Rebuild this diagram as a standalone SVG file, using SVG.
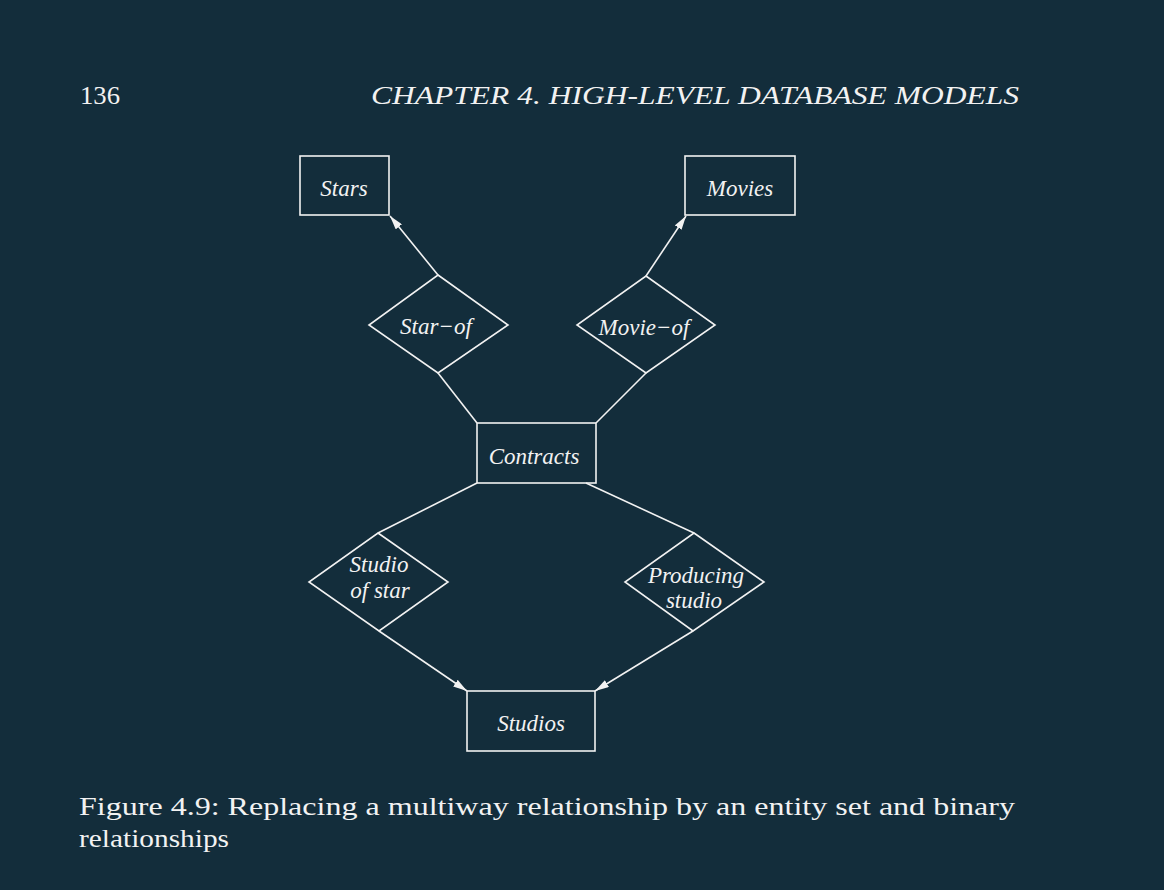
<svg xmlns="http://www.w3.org/2000/svg" width="1164" height="890" viewBox="0 0 1164 890">
<style>
.shape{fill:none;stroke:#f2f2f2;stroke-width:1.6}
.lbl{font-family:"Liberation Serif","Times New Roman",serif;font-style:italic;font-size:23px;fill:#f2f2f2;text-anchor:middle}
.page{font-family:"Liberation Serif","Times New Roman",serif;font-size:25px;fill:#f2f2f2}
.conn{stroke:#f2f2f2;stroke-width:1.6;fill:none}
</style>
<defs>
<marker id="arr" viewBox="0 0 14 8" refX="14" refY="4" markerWidth="14" markerHeight="8" markerUnits="userSpaceOnUse" orient="auto">
<path d="M0,0 L14,4 L0,8 Z" fill="#f2f2f2"/>
</marker>
</defs>
<rect width="1164" height="890" fill="#132d3b"/>
<text class="page" x="80" y="104" textLength="40" lengthAdjust="spacingAndGlyphs">136</text>
<text class="page" x="371" y="104" font-style="italic" textLength="648" lengthAdjust="spacingAndGlyphs">CHAPTER 4.  HIGH-LEVEL DATABASE MODELS</text>
<g id="stars"><rect class="shape" x="300" y="156" width="89" height="59"/><text class="lbl" x="344" y="196">Stars</text></g>
<g id="movies"><rect class="shape" x="685" y="156" width="110" height="59"/><text class="lbl" x="740" y="196">Movies</text></g>
<g id="star-of"><polygon class="shape" points="438,275 508,325 438,373 369,325"/><text class="lbl" x="436" y="334">Star−of</text></g>
<g id="movie-of"><polygon class="shape" points="646,276 715,325 646,373 577,325"/><text class="lbl" x="644" y="335">Movie−of</text></g>
<g id="contracts"><rect class="shape" x="477" y="423" width="119" height="60"/><text class="lbl" x="534" y="464">Contracts</text></g>
<g id="studio-of-star"><polygon class="shape" points="378,533 448,582 379,631 309,582"/><text class="lbl" x="379" y="572">Studio</text><text class="lbl" x="380" y="598">of star</text></g>
<g id="producing-studio"><polygon class="shape" points="694,533 764,582 693,631 625,582"/><text class="lbl" x="696" y="583">Producing</text><text class="lbl" x="694" y="608">studio</text></g>
<g id="studios"><rect class="shape" x="467" y="691" width="128" height="60"/><text class="lbl" x="531" y="731">Studios</text></g>
<g id="connectors">
<line class="conn" x1="438" y1="275" x2="390" y2="216" marker-end="url(#arr)"/>
<line class="conn" x1="646" y1="276" x2="686" y2="216" marker-end="url(#arr)"/>
<line class="conn" x1="438" y1="373" x2="477" y2="423"/>
<line class="conn" x1="646" y1="373" x2="596" y2="423"/>
<line class="conn" x1="477" y1="483" x2="378" y2="533"/>
<line class="conn" x1="586" y1="483" x2="694" y2="533"/>
<line class="conn" x1="379" y1="631" x2="467" y2="691" marker-end="url(#arr)"/>
<line class="conn" x1="693" y1="631" x2="595" y2="691" marker-end="url(#arr)"/>
</g>
<text class="page" x="79" y="815" textLength="936" lengthAdjust="spacingAndGlyphs">Figure 4.9:  Replacing a multiway relationship by an entity set and binary</text>
<text class="page" x="79" y="847" textLength="150" lengthAdjust="spacingAndGlyphs">relationships</text>
</svg>
